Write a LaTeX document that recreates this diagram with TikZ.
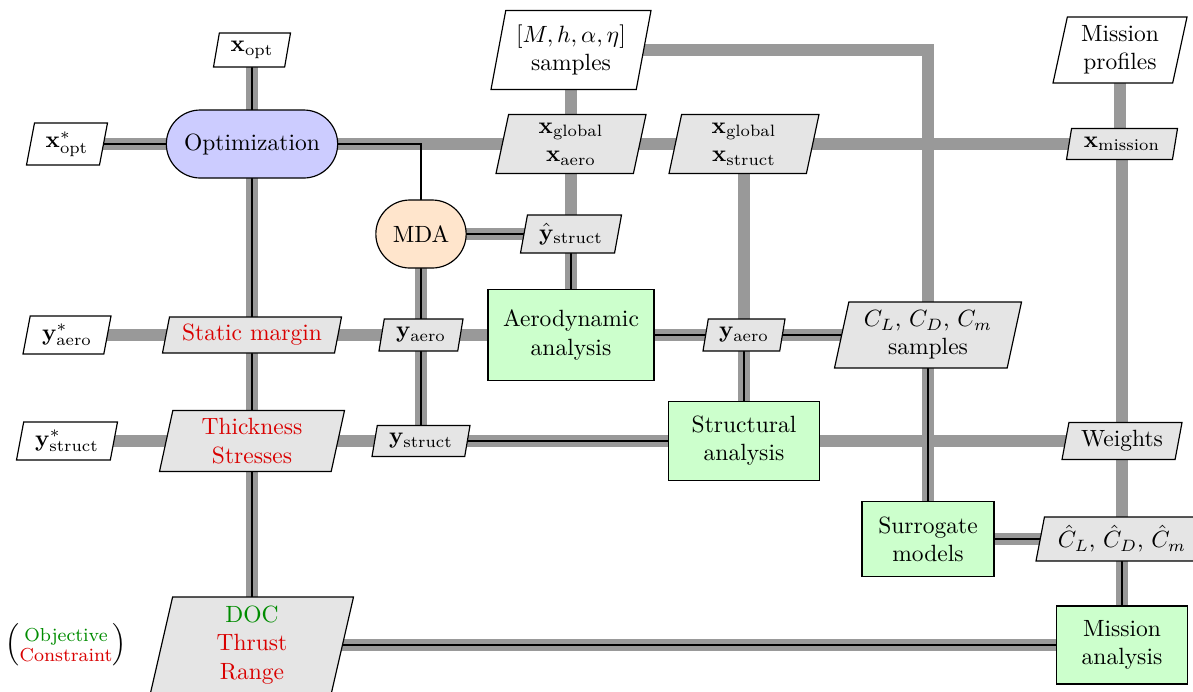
\documentclass[tikz,border=0pt]{standalone}
\usepackage{amsmath}
\usetikzlibrary{shapes.geometric,shapes.misc,backgrounds}
\newdimen\pxu \pxu=0.4255pt
\definecolor{objgreen}{rgb}{0.0,0.55,0.0}
\definecolor{conred}{rgb}{0.85,0.0,0.0}
\begin{document}
\begin{tikzpicture}[x=0.4255pt,y=-0.4255pt,
  sz/.style 2 args={minimum width=#1\pxu, minimum height=#2\pxu},
  datanode/.style={shape=trapezium, trapezium left angle=75, trapezium right angle=105,
    trapezium stretches body, draw, line width=0.5pt, fill=black!10, align=center, inner sep=1pt},
  innode/.style={datanode, fill=white},
  func/.style={draw, rectangle, fill=green!20, align=center, line width=0.5pt, inner sep=2pt},
  optnode/.style={draw, rounded rectangle, fill=blue!20, line width=0.5pt, align=center},
  mdanode/.style={draw, rounded rectangle, fill=orange!20, line width=0.5pt, align=center},
  dline/.style={line width=5pt, draw=black!40},
  pline/.style={line width=1.1pt, draw=black},
]
\useasboundingbox (0,0) rectangle (1193,691);

% row 0
\node[innode, sz={77}{34}] (xopt) at (252,50) {$\mathbf{x}_\text{opt}$};
\node[innode, sz={160}{79}] (samp) at (571,50) {$[M, h, \alpha, \eta]$\\samples};
\node[innode, sz={134}{66}] (mprof) at (1120,50) {Mission\\profiles};
% row 1
\node[innode, sz={81}{42}] (xoptstar) at (67,144) {$\mathbf{x}^*_\text{opt}$};
\node[optnode, sz={187}{68}] (opt) at (252,144) {Optimization};
\node[datanode, sz={150}{59}] (xga) at (571,144) {$\mathbf{x}_\text{global}$\\$\mathbf{x}_\text{aero}$};
\node[datanode, sz={150}{59}] (xgs) at (744,144) {$\mathbf{x}_\text{global}$\\$\mathbf{x}_\text{struct}$};
\node[datanode, sz={111}{31}] (xmis) at (1122,144) {$\mathbf{x}_\text{mission}$};
% row 2
\node[mdanode, sz={106}{68}] (mda) at (421,234) {MDA};
\node[datanode, sz={101}{38}] (yhs) at (571,234) {$\hat{\mathbf{y}}_\text{struct}$};
% row 3
\node[innode, sz={88}{38}] (yas) at (67,335) {$\mathbf{y}^*_\text{aero}$};
\node[datanode, sz={179}{36}, text=conred] (sm) at (252,335) {Static margin};
\node[datanode, sz={84}{32}] (ya1) at (421,335) {$\mathbf{y}_\text{aero}$};
\node[func, sz={166}{91}] (aero) at (571,335) {Aerodynamic\\analysis};
\node[datanode, sz={82}{32}] (ya2) at (744,335) {$\mathbf{y}_\text{aero}$};
\node[datanode, sz={187}{66}] (cls) at (928,335) {$C_L$, $C_D$, $C_m$\\samples};
% row 4
\node[innode, sz={101}{38}] (yss) at (67,441) {$\mathbf{y}^*_\text{struct}$};
\node[datanode, sz={185}{61}, text=conred] (ts) at (252,441) {Thickness\\Stresses};
\node[datanode, sz={98}{31}] (ys) at (421,441) {$\mathbf{y}_\text{struct}$};
\node[func, sz={151}{79}] (struct) at (744,441) {Structural\\analysis};
\node[datanode, sz={120}{37}] (wts) at (1122,441) {Weights};
% row 5
\node[func, sz={132}{75}] (surr) at (928,539) {Surrogate\\models};
\node[datanode, sz={172}{44}] (chat) at (1122,539) {$\hat{C}_L$, $\hat{C}_D$, $\hat{C}_m$};
% row 6
\node (legend) at (66,645) {$\left(\substack{\text{\footnotesize\color{objgreen}Objective}\\ \text{\footnotesize\color{conred}Constraint}}\right)$};
\node[datanode, sz={203}{96}] (doc) at (252,645) {\color{objgreen}DOC\\\color{conred}Thrust\\\color{conred}Range};
\node[func, sz={131}{78}] (mis) at (1122,645) {Mission\\analysis};

\begin{pgfonlayer}{background}
  % data lines
  \draw[dline] (xopt.center) -- (opt.center);
  \draw[dline] (xoptstar.center) -- (opt.center);
  \draw[dline] (opt.center) -- (xga.center) -- (xgs.center) -- (xmis.center);
  \draw[dline] (samp.center) -- (xga.center) -- (yhs.center) -- (aero.center);
  \draw[dline] (samp.center) -| (surr.center);
  \draw[dline] (xgs.center) -- (ya2.center) -- (struct.center);
  \draw[dline] (opt.center) -- (sm.center) -- (ts.center) -- (doc.center);
  \draw[dline] (mda.center) -- (ya1.center) -- (ys.center);
  \draw[dline] (mda.center) -- (yhs.center);
  \draw[dline] (yas.center) -- (sm.center) -- (ya1.center) -- (aero.center);
  \draw[dline] (aero.center) -- (ya2.center) -- (cls.center);
  \draw[dline] (yss.center) -- (ts.center) -- (ys.center) -- (struct.center) -- (wts.center);
  \draw[dline] (cls.center) -- (surr.center);
  \draw[dline] (surr.center) -- (chat.center);
  \draw[dline] (xmis.center) -- (wts.center) -- (chat.center) -- (mis.center);
  \draw[dline] (mprof.center |- xmis.center) -- (mprof.center);
  \draw[dline] (doc.center) -- (mis.center);
  % process lines
  \draw[pline] (xopt.center) -- (opt.center);
  \draw[pline] (xoptstar.center) -- (opt.center);
  \draw[pline] (opt.center) -| (mda.center);
  \draw[pline] (opt.center) -- (sm.center) -- (ts.center) -- (doc.center);
  \draw[pline] (mda.center) -- (ya1.center) -- (ys.center) -- (struct.center);
  \draw[pline] (mda.center) -- (yhs.center) -- (aero.center);
  \draw[pline] (aero.center) -- (ya2.center) -- (cls.center);
  \draw[pline] (ya2.center) -- (struct.center);
  \draw[pline] (cls.center) -- (surr.center) -- (chat.center) -- (mis.center);
  \draw[pline] (doc.center) -- (mis.center);
\end{pgfonlayer}
\end{tikzpicture}
\end{document}
